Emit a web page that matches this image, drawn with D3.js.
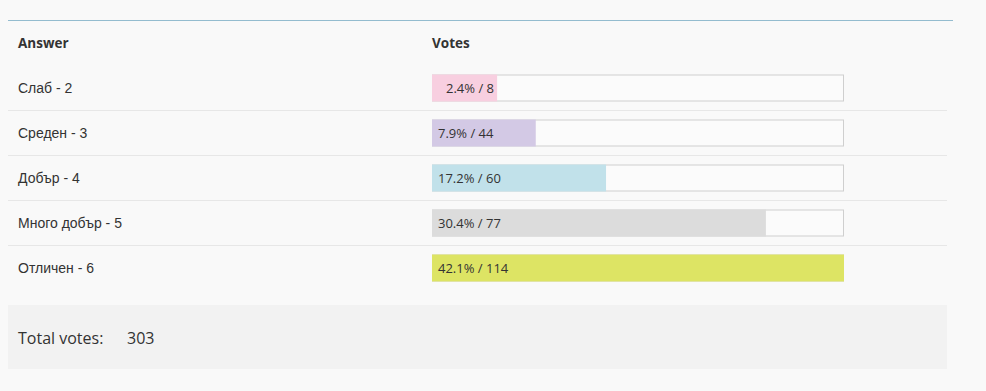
<!DOCTYPE html>
<html><head><meta charset="utf-8">
<script src="https://cdn.jsdelivr.net/npm/d3@7"></script>
<style>
html,body{margin:0;padding:0;background:#f9f9f9;}
svg{display:block;}
</style></head>
<body>
<script>
const answers = ["Слаб - 2", "Среден - 3", "Добър - 4", "Много добър - 5", "Отличен - 6"];
const percents = [2.4, 7.9, 17.2, 30.4, 42.1];
const votes = [8, 44, 60, 77, 114];
// share of the bar track filled (percent)
const fillShare = [15.6, 25.0, 42.1, 81.0, 100];
const colors = ["#f8cfe0", "#d3c9e5", "#c1e1ea", "#dcdcdc", "#dde464"];
const totalVotes = 303;

const W = 986, H = 391;
const svg = d3.select("body").append("svg").attr("width", W).attr("height", H);

const y = d3.scaleBand().domain(answers).range([65, 290]).paddingInner(0).paddingOuter(0);
const x = d3.scaleLinear().domain([0, 100]).range([432, 843]);

// top rule
svg.append("line").attr("x1", 8).attr("x2", 953).attr("y1", 20.5).attr("y2", 20.5)
  .attr("stroke", "#94bccf").attr("stroke-width", 1);

// headers
svg.append("text").attr("x", 18).attr("y", 48).text("Answer")
  .attr("font-family", "Open Sans").attr("font-weight", 700).attr("font-size", 13.5).attr("fill", "#333");
svg.append("text").attr("x", 432).attr("y", 48).text("Votes")
  .attr("font-family", "Open Sans").attr("font-weight", 700).attr("font-size", 13.5).attr("fill", "#333");

// row separators
svg.selectAll("line.sep").data(answers.slice(1)).enter().append("line")
  .attr("class", "sep")
  .attr("x1", 8).attr("x2", 947)
  .attr("y1", d => y(d) + 0.5).attr("y2", d => y(d) + 0.5)
  .attr("stroke", "#e7e7e7");

const rows = svg.selectAll("g.row").data(answers).enter().append("g").attr("class", "row");

rows.append("text")
  .attr("x", 18).attr("y", d => y(d) + y.bandwidth() / 2 + 5)
  .text(d => d)
  .attr("font-family", "Liberation Sans, Arial").attr("font-size", 14).attr("fill", "#333");

const barH = 26;
rows.append("rect")
  .attr("x", x(0) + 0.5).attr("y", d => y(d) + y.bandwidth() / 2 - barH / 2 + 0.5)
  .attr("width", x(100) - x(0)).attr("height", barH)
  .attr("fill", "#fbfbfb").attr("stroke", "#cfcfcf");

rows.append("rect")
  .attr("x", x(0)).attr("y", d => y(d) + y.bandwidth() / 2 - barH / 2)
  .attr("width", (d, i) => x(fillShare[i]) - x(0) + 1).attr("height", barH + 1)
  .attr("fill", (d, i) => colors[i]);

rows.append("text")
  .attr("x", (d, i) => x(0) + (i === 0 ? 14 : 6))
  .attr("y", d => y(d) + y.bandwidth() / 2 + 5)
  .text((d, i) => percents[i] + "% / " + votes[i])
  .attr("font-family", "Open Sans").attr("font-size", 13).attr("fill", "#333");

// total box
svg.append("rect").attr("x", 8).attr("y", 305).attr("width", 939).attr("height", 64).attr("fill", "#f2f2f2");
svg.append("text").attr("x", 18).attr("y", 344).text("Total votes:")
  .attr("font-family", "Open Sans").attr("font-size", 16).attr("fill", "#333");
svg.append("text").attr("x", 127).attr("y", 344).text(totalVotes)
  .attr("font-family", "Open Sans").attr("font-size", 16).attr("fill", "#333");
</script>
</body></html>
